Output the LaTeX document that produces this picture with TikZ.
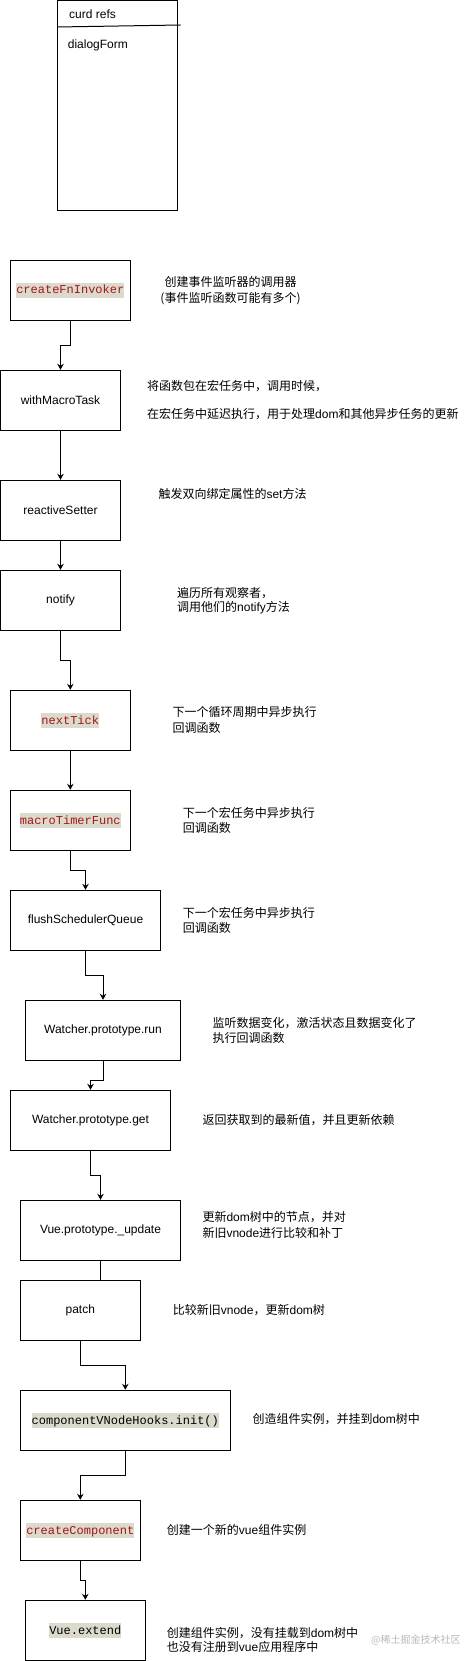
\documentclass[tikz,border=0pt]{standalone}
\usepackage{fontspec}
\setmainfont{Liberation Sans}
\newfontfamily\cjk{Noto Sans CJK SC}
\newfontfamily\monof{Liberation Mono}
\newfontfamily\arialf{Liberation Sans}
\usetikzlibrary{arrows.meta}
\definecolor{codered}{RGB}{163,21,21}
\definecolor{hlbg}{RGB}{220,218,205}
\definecolor{wmgray}{RGB}{185,185,185}
\newcommand\lat[1]{{\arialf #1}}
\newcommand\codehl[2][black]{{\setlength{\fboxsep}{0pt}\colorbox{hlbg}{\rule[-3.6pt]{0pt}{14.6pt}\textcolor{#1}{\monof #2}}}}
\begin{document}
\begin{tikzpicture}[x=1pt,y=-1pt,
  box/.style={draw, line width=1pt, inner sep=0pt, font=\arialf\fontsize{12}{14}\selectfont},
  arr/.style={-{Stealth[length=6pt,width=6.5pt]}, line width=1pt},
  conn/.style={line width=1pt},
  ann/.style={inner sep=0pt, anchor=west, align=left, font=\cjk\fontsize{12}{14.5}\selectfont},
  lbl/.style={inner sep=0pt, anchor=west, font=\arialf\fontsize{12}{14}\selectfont}]
\useasboundingbox (0,0) rectangle (476,1661);
\fill[white] (0,0) rectangle (476,1661);

% top refs box
\node[box, minimum width=120pt, minimum height=209.5pt] (refs) at (117.3,105.75) {};
\coordinate (divL) at (57.3,27);
\coordinate (divR) at (180.7,25);
\draw[line width=1pt] (divL) -- (divR);
\node[lbl] (curd) at (69,14.7) {curd refs};
\node[lbl] (dform) at (67.7,45) {dialogForm};

% flow boxes
\node[box, minimum width=120pt, minimum height=60pt] (inv) at (70.3,290.3) {\codehl[codered]{createFnInvoker}};
\node[box, minimum width=120pt, minimum height=60pt] (wmt) at (60.5,400.3) {withMacroTask};
\node[box, minimum width=120pt, minimum height=60pt] (rs) at (60.5,510.3) {reactiveSetter};
\node[box, minimum width=120pt, minimum height=60pt] (ntf) at (60.5,600.3) {notify};
\node[box, minimum width=120pt, minimum height=60pt] (nt) at (70.3,720.3) {\codehl[codered]{nextTick}};
\node[box, minimum width=120pt, minimum height=60pt] (mtf) at (70.3,820.3) {\codehl[codered]{macroTimerFunc}};
\node[box, minimum width=150pt, minimum height=60pt] (fsq) at (85.5,920.3) {flushSchedulerQueue};
\node[box, minimum width=155pt, minimum height=60pt] (wrun) at (103,1030.3) {Watcher.prototype.run};
\node[box, minimum width=160pt, minimum height=60pt] (wget) at (90.5,1120.3) {Watcher.prototype.get};
\node[box, minimum width=160pt, minimum height=60pt] (vupd) at (100.5,1230.3) {Vue.prototype.\_update};
\node[box, minimum width=120pt, minimum height=60pt] (patch) at (80.3,1310.3) {patch};
\node[box, minimum width=210pt, minimum height=60pt] (cvh) at (125.3,1420.3) {\codehl{componentVNodeHooks.init()}};
\node[box, minimum width=120pt, minimum height=60pt] (cc) at (80.3,1530.3) {\codehl[codered]{createComponent}};
\node[box, minimum width=120pt, minimum height=60pt] (ve) at (85.3,1630.3) {\codehl{Vue.extend}};

% connectors
\draw[arr] (inv.south) -- ++(0,25) -| (wmt.north);
\draw[arr] (wmt.south) -- (rs.north);
\draw[arr] (rs.south) -- (ntf.north);
\draw[arr] (ntf.south) -- ++(0,29.7) -| (nt.north);
\draw[arr] (nt.south) -- (mtf.north);
\draw[arr] (mtf.south) -- ++(0,20) -| (fsq.north);
\draw[arr] (fsq.south) -- ++(0,25) -| (wrun.north);
\draw[arr] (wrun.south) -- ++(0,20) -| (wget.north);
\draw[arr] (wget.south) -- ++(0,25) -| (vupd.north);
\draw[conn] (vupd.south) -- (vupd.south |- patch.north);
\draw[arr] (patch.south) -- ++(0,25) -| (cvh.north);
\draw[arr] (cvh.south) -- ++(0,25) -| (cc.north);
\draw[arr] (cc.south) -- ++(0,20) -| (ve.north);

% annotations
\node[ann, anchor=center, align=center, font=\cjk\fontsize{12}{16}\selectfont] (a1) at (230.5,290.7) {创建事件监听器的调用器\\(事件监听函数可能有多个)};
\node[ann] (a2a) at (147,385.7) {将函数包在宏任务中，调用时候，};
\node[ann] (a2b) at (147,414.3) {在宏任务中延迟执行，用于处理\lat{dom}和其他异步任务的更新};
\node[ann] (a3) at (158.3,494.3) {触发双向绑定属性的\lat{set}方法};
\node[ann] (a4) at (177,600.5) {遍历所有观察者，\\调用他们的\lat{notify}方法};
\node[ann, font=\cjk\fontsize{12}{15.4}\selectfont] (a5) at (172.3,720) {下一个循环周期中异步执行\\回调函数};
\node[ann, font=\cjk\fontsize{12}{15}\selectfont] (a6) at (182.7,820.2) {下一个宏任务中异步执行\\回调函数};
\node[ann, font=\cjk\fontsize{12}{15}\selectfont] (a7) at (182.7,920.2) {下一个宏任务中异步执行\\回调函数};
\node[ann] (a8) at (212.3,1030.5) {监听数据变化，激活状态且数据变化了\\执行回调函数};
\node[ann] (a9) at (202.3,1120) {返回获取到的最新值，并且更新依赖};
\node[ann, font=\cjk\fontsize{12}{16}\selectfont] (a10) at (202.3,1225.3) {更新\lat{dom}树中的节点，并对\\新旧\lat{vnode}进行比较和补丁};
\node[ann] (a11) at (172.7,1310) {比较新旧\lat{vnode}，更新\lat{dom}树};
\node[ann] (a12) at (252.3,1418.7) {创造组件实例，并挂到\lat{dom}树中};
\node[ann] (a13) at (166.7,1530) {创建一个新的\lat{vue}组件实例};
\node[ann] (a14) at (166.7,1640) {创建组件实例，没有挂载到\lat{dom}树中\\也没有注册到\lat{vue}应用程序中};
\node[ann, text=wmgray, font=\cjk\fontsize{10}{12}\selectfont] (wm) at (371,1640.3) {@稀土掘金技术社区};
\end{tikzpicture}
\end{document}
